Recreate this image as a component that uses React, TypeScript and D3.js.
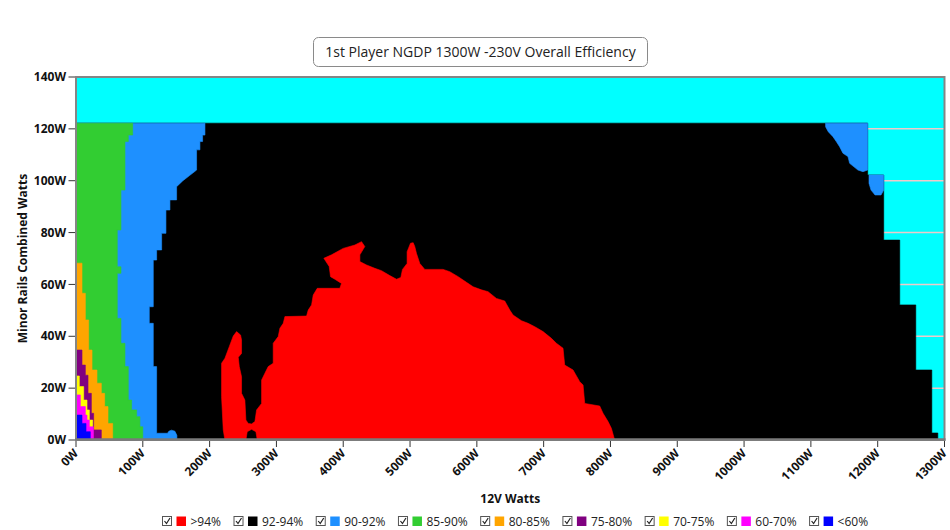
import React, { useMemo } from "react";
import * as d3 from "d3";

type P = [number, number];

// ---------- data ----------
const TITLE = "1st Player NGDP 1300W -230V Overall Efficiency";
const X_LABEL = "12V Watts";
const Y_LABEL = "Minor Rails Combined Watts";
const X_TICKS = [0, 100, 200, 300, 400, 500, 600, 700, 800, 900, 1000, 1100, 1200, 1300];
const Y_TICKS = [0, 20, 40, 60, 80, 100, 120, 140];
const GRID_LINES = [20, 40, 60, 80, 100, 120];

const LEGEND_LABELS = [">94%", "92-94%", "90-92%", "85-90%", "80-85%", "75-80%", "70-75%", "60-70%", "<60%"];
const LEGEND_COLORS = ["#FF0000", "#000000", "#1E90FF", "#32CD32", "#FFA500", "#800080", "#FFFF00", "#FF00FF", "#0000FF"];

// region outlines: [12V watts, minor rails watts]
const validRegion92: P[] = [
  [0, 0], [0, 122.2], [1185, 122.2], [1185, 102.2], [1209, 102.2], [1209, 77.1], [1233, 77.1],
  [1233, 52.1], [1257, 52.1], [1257, 27], [1281, 27], [1281, 2.7], [1290, 2.7], [1290, 0],
];
const band9092Left: P[] = [
  [0, 122.2], [193, 122.2], [193, 117.6], [189.5, 117.6], [189.5, 115.1], [185.5, 115.1], [185.5, 111.9],
  [180.5, 111.9], [180.5, 104.1], [170, 102], [160, 100], [150.6, 97.7], [150.6, 92.6], [140.6, 92.6],
  [140.6, 88.7], [134.6, 88.7], [134.6, 79.7], [128.2, 79.7], [128.2, 73.3], [120.7, 73.3], [120.7, 69.4],
  [115.7, 69.4], [115.7, 51.4], [109.7, 51.4], [109.7, 45], [115.7, 45], [115.7, 28.3], [120.7, 28.3],
  [120.7, 2.6], [137, 2.6], [139, 3.4], [143, 3.8], [148, 3.4], [151, 1.8], [151, 0], [0, 0],
];
const band9092Right: P[] = [
  [1122, 122.2], [1185, 122.2], [1185, 104.1], [1178, 103.5], [1170.5, 104.1], [1158, 106.7],
  [1155.5, 109.3], [1148, 110.6], [1143, 113.1], [1138, 115.1], [1133, 117], [1126, 118.9], [1122, 120.8],
];
const band9092Blob: P[] = [
  [1187, 102.2], [1209, 102.2], [1209, 96.4], [1205, 94.5], [1196, 94.5], [1190, 96.4], [1187, 99],
];
const band8590: P[] = [
  [0, 122.2], [84.8, 122.2], [84.8, 117.6], [78.3, 117.6], [78.3, 115.1], [73.3, 115.1], [73.3, 96.4],
  [67.3, 96.4], [67.3, 81], [61.8, 81], [61.8, 66.8], [67.3, 66.8], [67.3, 64.3], [61.8, 64.3],
  [61.8, 46.9], [67.3, 46.9], [67.3, 37.3], [73.3, 37.3], [73.3, 28.3], [78.3, 28.3], [78.3, 15.4],
  [83.3, 15.4], [83.3, 11.6], [90.8, 11.6], [90.8, 9], [95.7, 9], [95.7, 5.1], [100, 5.1], [100, 0], [0, 0],
];
const band8085: P[] = [
  [0, 68.2], [9, 68.2], [9, 56.6], [14, 56.6], [14, 46.3], [19, 46.3], [19, 34.7], [24, 34.7], [24, 27],
  [31.4, 27], [31.4, 21.9], [37.9, 21.9], [37.9, 18], [42.9, 18], [42.9, 12.9], [47.9, 12.9], [47.9, 6.4],
  [54.9, 6.4], [54.9, 0], [0, 0],
];
const band7580: P[] = [
  [0, 34.7], [9, 34.7], [9, 28.9], [14, 28.9], [14, 25], [18, 25], [18, 18], [23, 18], [23, 10.3],
  [26.4, 10.3], [26.4, 3.9], [37.9, 3.9], [37.9, 0], [0, 0],
];
const band7075: P[] = [
  [0, 24.7], [5, 24.7], [5, 20.6], [11.5, 20.6], [11.5, 15.4], [16.5, 15.4], [16.5, 11.6], [20, 11.6],
  [20, 7.7], [25, 7.7], [25, 0], [0, 0],
];
const band6070: P[] = [
  [0, 17.4], [6.5, 17.4], [6.5, 12.9], [14, 12.9], [14, 9.6], [16.5, 9.6], [16.5, 7.7], [20, 7.7],
  [20, 5.1], [26, 5.1], [26, 0], [0, 0],
];
const bandBelow60: P[] = [
  [0, 9.6], [9, 9.6], [9, 6.4], [15, 6.4], [15, 3.2], [21.4, 3.2], [21.4, 0], [0, 0],
];
const bandAbove94: P[] = [
  [222.9, 0], [220.4, 3.9], [217.9, 16.7], [217.9, 29.6], [222.9, 31.5], [229.4, 36], [235.4, 40.1],
  [240.4, 41.8], [246.3, 40.5], [247.8, 38.6], [247.8, 33.4], [242.9, 31.9], [244.4, 28.3], [247.8, 24.4],
  [247.8, 18], [252.8, 15.4], [254.3, 7.7], [257.8, 6.4], [262.8, 6.2], [267.8, 7.1], [270.3, 11.6],
  [277.8, 14.1], [277.8, 23.1], [282.7, 25.7], [287.7, 28.3], [295.2, 29.6], [295.2, 37.3], [302.7, 39.9],
  [305.2, 43.1], [310.2, 45], [312.7, 47.6], [345.1, 47.8], [347.6, 50.1], [352.6, 52.1], [355.1, 55.9],
  [361.1, 58.5], [394.9, 58.5], [397.4, 60.4], [387.5, 62], [381, 63], [379, 66.9], [371, 70.1],
  [382.5, 71.4], [399.9, 73.9], [417.4, 75.2], [427.4, 76.5], [432.3, 74.6], [424.9, 71.4], [424.9, 68.8],
  [434.9, 67.5], [447.3, 66.2], [457.3, 65.3], [469.7, 63.4], [479.8, 62], [486.2, 62.7], [488.7, 65.8],
  [495.6, 68.1], [495.6, 72.6], [500.7, 75.9], [504.7, 76.1], [507.1, 74.6], [509.6, 72], [514.6, 68.1],
  [522.1, 65.8], [549.5, 65.8], [559.5, 64.9], [572, 63], [584.5, 60.8], [594.4, 59.1], [606.9, 57.9],
  [616.8, 57.2], [629.3, 54.6], [641.8, 53.6], [649.3, 50.1], [654.2, 48.2], [666.8, 46], [676.7, 45],
  [686.7, 43.7], [699.1, 41.8], [711.6, 39.2], [719.1, 37.3], [729, 35.4], [731.5, 28.9], [744, 27],
  [754, 22.5], [759, 21.2], [761.5, 14.1], [783.9, 13.1], [788.9, 10.3], [796.4, 7.1], [801.4, 4.5],
  [806.3, 0], [271.3, 0], [269.3, 3.2], [262.8, 4.1], [256.3, 3.2], [254.3, 0],
];

// drawing order (back to front) with legend index for colour
const REGIONS: { pts: P[]; c: number }[] = [
  { pts: validRegion92, c: 1 },
  { pts: band9092Left, c: 2 },
  { pts: band9092Right, c: 2 },
  { pts: band9092Blob, c: 2 },
  { pts: band8590, c: 3 },
  { pts: band8085, c: 4 },
  { pts: band7580, c: 5 },
  { pts: band7075, c: 6 },
  { pts: band6070, c: 7 },
  { pts: bandBelow60, c: 8 },
  { pts: bandAbove94, c: 0 },
];

// ---------- layout ----------
const W = 950;
const H = 530;
const PL = 76;
const PR = 944.5;
const PT = 77;
const PB = 440;
const FONT = "'Open Sans', 'Noto Sans', sans-serif";

export default function App() {
  const x = d3.scaleLinear().domain([0, 1300]).range([PL, PR]);
  const y = d3.scaleLinear().domain([0, 140]).range([PB, PT]);
  const line = d3.line<P>().x((d) => x(d[0])).y((d) => y(d[1]));

  const legendX = useMemo(() => {
    const ctx = document.createElement("canvas").getContext("2d");
    const xs: number[] = [];
    let cx = 162;
    LEGEND_LABELS.forEach((t) => {
      xs.push(cx);
      let w = t.length * 6.6;
      if (ctx) {
        ctx.font = `12px ${FONT}`;
        w = ctx.measureText(t).width;
      }
      cx += 28 + w + 13;
    });
    return xs;
  }, []);

  return (
    <svg width={W} height={H} style={{ position: "absolute", left: 0, top: 0, background: "#fff" }} fontFamily={FONT}>
      <rect x={0} y={0} width={W} height={H} fill="#fff" />
      {/* title */}
      <rect x={313.5} y={37.5} width={334} height={29} rx={5} fill="#fff" stroke="#8a8a8a" strokeWidth={1} />
      <text x={480.5} y={57} textAnchor="middle" fontSize={14} fill="#222">{TITLE}</text>

      {/* plot background */}
      <rect x={PL} y={PT} width={PR - PL} height={PB - PT} fill="#00FFFF" />
      {GRID_LINES.map((v) => (
        <line key={v} x1={PL} x2={PR} y1={y(v)} y2={y(v)} stroke="#f0caca" strokeWidth={1.5} />
      ))}
      {REGIONS.map((r, i) => (
        <path key={i} d={line(r.pts) + "Z"} fill={LEGEND_COLORS[r.c]} stroke={LEGEND_COLORS[r.c]} strokeWidth={0.6} strokeLinejoin="round" />
      ))}
      {/* frame */}
      <rect x={PL} y={PT} width={PR - PL} height={PB - PT} fill="none" stroke="#858585" strokeWidth={2} />
      <line x1={PL - 1} x2={PR + 1} y1={PB - 0.5} y2={PB - 0.5} stroke="#7a7a7a" strokeWidth={2.5} />

      {/* y axis */}
      {Y_TICKS.map((v) => (
        <g key={v}>
          <line x1={68.5} x2={PL - 1} y1={y(v)} y2={y(v)} stroke="#333" strokeWidth={1} />
          <text x={66} y={y(v)} dy="0.35em" textAnchor="end" fontSize={12} fontWeight="bold" fill="#111">{v + "W"}</text>
        </g>
      ))}
      {/* x axis */}
      {X_TICKS.map((v) => (
        <g key={v}>
          <line x1={x(v)} x2={x(v)} y1={PB + 1} y2={PB + 7} stroke="#333" strokeWidth={1} />
          <text transform={`translate(${x(v) + 3},${PB + 14}) rotate(-45)`} textAnchor="end" fontSize={12} fontWeight="bold" fill="#111">{v + "W"}</text>
        </g>
      ))}
      <text x={(PL + PR) / 2} y={503} textAnchor="middle" fontSize={12} fontWeight="bold" fill="#111">{X_LABEL}</text>
      <text transform={`translate(27,${(PT + PB) / 2}) rotate(-90)`} textAnchor="middle" fontSize={12} fontWeight="bold" fill="#111">{Y_LABEL}</text>

      {/* legend */}
      {LEGEND_LABELS.map((t, i) => {
        const lx = legendX[i];
        return (
          <g key={t}>
            <rect x={lx + 0.5} y={516.5} width={9} height={9} fill="#fff" stroke="#555" strokeWidth={1} />
            <path d={`M${lx + 2.5},${521} L${lx + 4.5},${523.5} L${lx + 8},${518}`} fill="none" stroke="#222" strokeWidth={1.2} />
            <rect x={lx + 14.5} y={516.5} width={9.5} height={9.5} fill={LEGEND_COLORS[i]} />
            <text x={lx + 28.5} y={525.5} fontSize={12} fill="#222">{t}</text>
          </g>
        );
      })}
    </svg>
  );
}
